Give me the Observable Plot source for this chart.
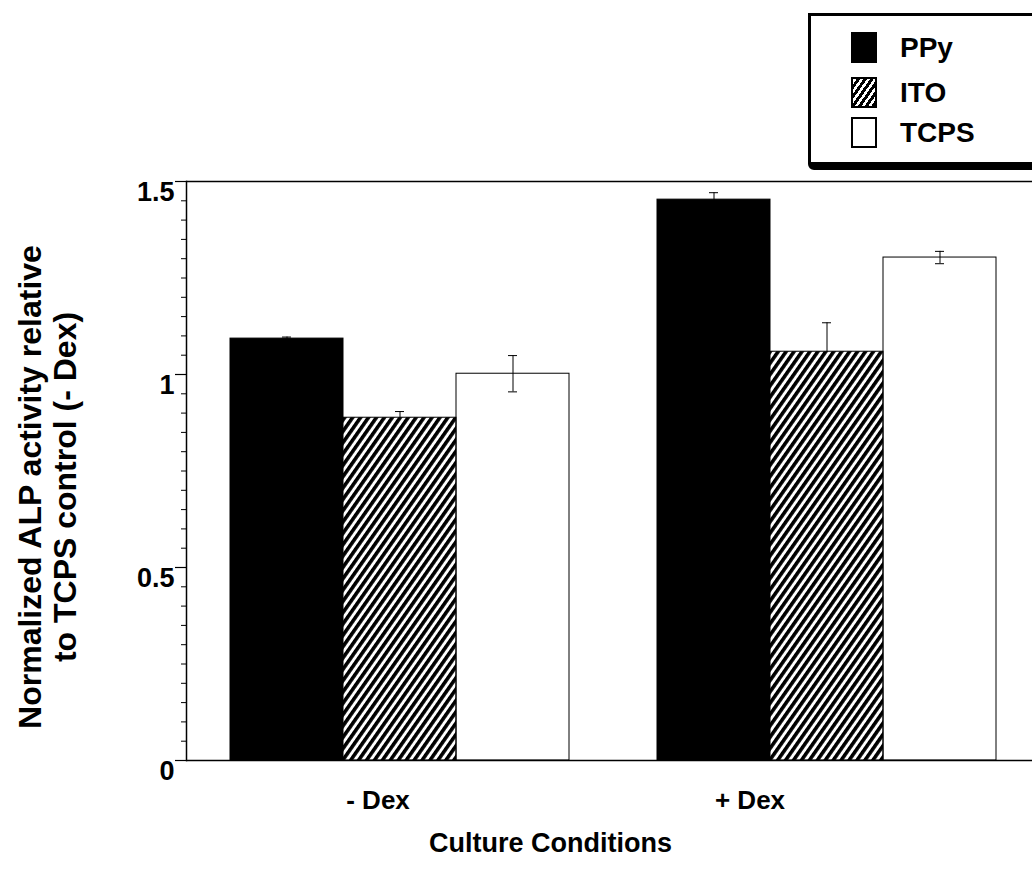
<!DOCTYPE html>
<html>
<head>
<meta charset="utf-8">
<script src="https://cdn.jsdelivr.net/npm/d3@7"></script>
<script src="https://cdn.jsdelivr.net/npm/@observablehq/plot@0.6"></script>
<style>
  html, body { margin: 0; padding: 0; background: #fff; overflow: hidden; }
  #wrap { position: relative; width: 1032px; height: 876px; overflow: hidden; font-family: "Liberation Sans", Arial, sans-serif; }
  #legend { position: absolute; left: 808px; top: 13px; width: 260px; height: 146px; border: 3px solid #000; border-bottom-width: 8px; border-radius: 0 0 0 6px; background: #fff; }
  .row { position: absolute; left: 40px; height: 31px; display: flex; align-items: center; }
  .sw { width: 26px; height: 31px; box-sizing: border-box; margin-right: 23px; }
  .lab { font-weight: bold; font-size: 28px; color: #000; line-height: 31px; }
</style>
</head>
<body>
<div id="wrap"></div>
<script>
// ---- data ----
const conditions = ["- Dex", "+ Dex"];
const materials = ["PPy", "ITO", "TCPS"];
const ppyValues  = [1.093, 1.453];
const itoValues  = [0.888, 1.059];
const tcpsValues = [1.002, 1.303];
const ppyErrors  = [0.004, 0.018];
const itoErrors  = [0.016, 0.075];
const tcpsErrors = [0.047, 0.016];
const yTickValues = [0, 0.5, 1, 1.5];
const yLabel = "Normalized ALP activity relative\nto TCPS control (- Dex)";
const xLabel = "Culture Conditions";

const seriesValues = {PPy: ppyValues, ITO: itoValues, TCPS: tcpsValues};
const seriesErrors = {PPy: ppyErrors, ITO: itoErrors, TCPS: tcpsErrors};
const data = [];
conditions.forEach((c, i) => materials.forEach(m => data.push({cond: c, mat: m, value: seriesValues[m][i], err: seriesErrors[m][i]})));
const minorTicks = d3.range(0, 1.5001, 0.05);

const font = {fontFamily: "'Liberation Sans', Arial, sans-serif", fontWeight: "bold"};

const plot = Plot.plot({
  width: 1032,
  height: 876,
  marginLeft: 186,
  marginRight: -8,
  marginTop: 181,
  marginBottom: 116,
  style: {fontFamily: "'Liberation Sans', Arial, sans-serif", background: "white", color: "black"},
  fx: {domain: conditions, padding: 0},
  x: {domain: materials, paddingInner: 0, paddingOuter: 0.378, axis: null},
  y: {domain: [0, 1.5]},
  color: {domain: materials, range: ["black", "url(#hatch)", "none"]},
  marks: [
    // error bars (drawn first so filled bars hide the lower whisker)
    Plot.ruleX(data, {fx: "cond", x: "mat", y1: d => d.value - d.err, y2: d => d.value + d.err, stroke: "black", strokeWidth: 1}),
    Plot.tickY(data, {fx: "cond", x: "mat", y: d => d.value + d.err, insetLeft: 52, insetRight: 52, stroke: "black", strokeWidth: 1}),
    Plot.tickY(data, {fx: "cond", x: "mat", y: d => d.value - d.err, insetLeft: 52, insetRight: 52, stroke: "black", strokeWidth: 1}),
    Plot.barY(data, {fx: "cond", x: "mat", y: "value", fill: "mat", stroke: "black", strokeWidth: 1}),
    // frame lines
    Plot.ruleY([1.5], {stroke: "black", strokeWidth: 1.5}),
    Plot.ruleY([0], {stroke: "black", strokeWidth: 1.5}),
    Plot.frame({anchor: "left", facet: "super", stroke: "black", strokeWidth: 1.5}),
    // y axis ticks
    Plot.axisY({ticks: minorTicks, tickSize: 5, tickFormat: () => "", label: null, strokeWidth: 1}),
    Plot.axisY({ticks: yTickValues, tickSize: 11, tickFormat: () => "", label: null, strokeWidth: 1.2}),
    Plot.axisY({ticks: yTickValues, tickSize: 0, tickPadding: 12, dy: 11, tickFormat: d => String(d), label: null, fontSize: 27, ...font}),
    // x category labels
    Plot.axisFx({anchor: "bottom", ticks: ["- Dex"], tickSize: 0, tickPadding: 30, dx: -22, label: null, fontSize: 26, ...font}),
    Plot.axisFx({anchor: "bottom", ticks: ["+ Dex"], tickSize: 0, tickPadding: 30, dx: -77, label: null, fontSize: 26, ...font}),
    // axis titles
    Plot.text([xLabel], {facet: "super", frameAnchor: "bottom", dy: 91, dx: -63, fontSize: 27, ...font, fill: "black"}),
    Plot.text([yLabel], {facet: "super", frameAnchor: "left", textAnchor: "middle", rotate: -90, dx: -139, dy: 16, fontSize: 32, lineHeight: 1.1, ...font, fill: "black"})
  ]
});

const ns = "http://www.w3.org/2000/svg";
const defs = document.createElementNS(ns, "defs");
defs.innerHTML = '<pattern id="hatch" patternUnits="userSpaceOnUse" width="6.5" height="6.5" patternTransform="rotate(35)">' +
  '<rect width="6.5" height="6.5" fill="white"/><rect width="3.6" height="6.5" fill="black"/></pattern>';
plot.insertBefore(defs, plot.firstChild);

const wrap = document.getElementById("wrap");
wrap.appendChild(plot);

// legend
const legend = document.createElement("div");
legend.id = "legend";
const legendFills = {PPy: "background:#000;", ITO: "border:2px solid #000;background:repeating-linear-gradient(-55deg,#000 0 3px,#fff 3px 5.5px);", TCPS: "border:2px solid #000;background:#fff;"};
const rowTops = [16, 61, 101];
materials.forEach((m, i) => {
  const row = document.createElement("div");
  row.className = "row";
  row.style.top = rowTops[i] + "px";
  row.innerHTML = `<div class="sw" style="${legendFills[m]}"></div><span class="lab">${m}</span>`;
  legend.appendChild(row);
});
wrap.appendChild(legend);
</script>
</body>
</html>
